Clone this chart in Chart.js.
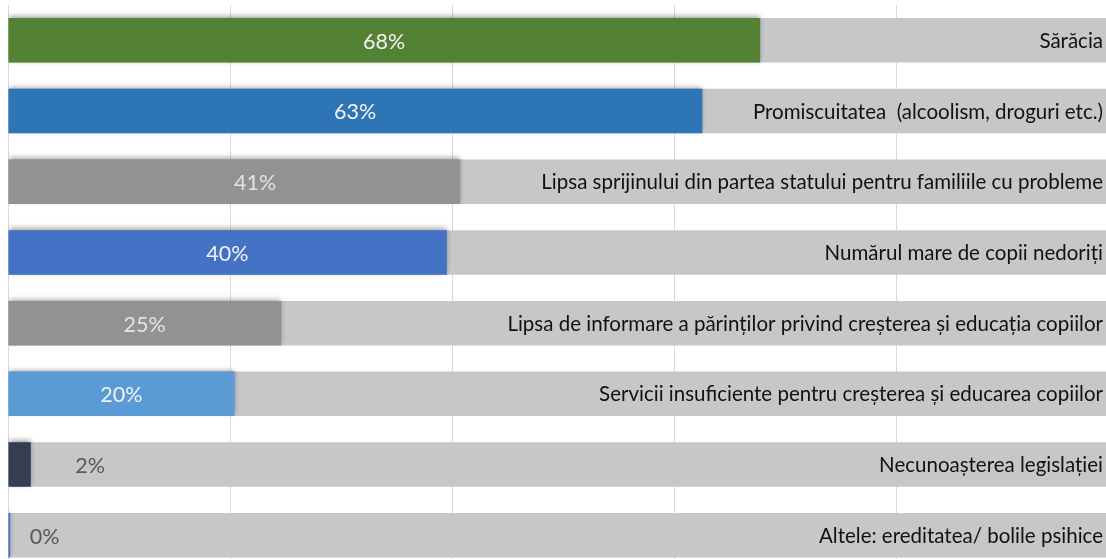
<!DOCTYPE html>
<html>
<head>
<meta charset="utf-8">
<script src="https://cdn.jsdelivr.net/npm/chart.js@4"></script>
<style>
  html, body { margin: 0; padding: 0; background: #ffffff; overflow: hidden; }
  #wrap { position: absolute; left: 0; top: 0; width: 1125px; height: 576px; }
</style>
</head>
<body>
<div id="wrap"><canvas id="c" width="1125" height="576"></canvas></div>
<script>
// ---- data ----
const categories = [
  "Sărăcia",
  "Promiscuitatea  (alcoolism, droguri etc.)",
  "Lipsa sprijinului din partea statului pentru familiile cu probleme",
  "Numărul mare de copii nedoriți",
  "Lipsa de informare a părinților privind creșterea și educația copiilor",
  "Servicii insuficiente pentru creșterea și educarea copiilor",
  "Necunoașterea legislației",
  "Altele: ereditatea/ bolile psihice"
];
const values = [67.7, 62.5, 40.7, 39.5, 24.6, 20.4, 2.05, 0.2];
const valueLabels = ["68%", "63%", "41%", "40%", "25%", "20%", "2%", "0%"];
const totals = [100, 100, 100, 100, 100, 100, 100, 100];
const barColors = ["#548235", "#2E75B6", "#919293", "#4472C4", "#919293", "#5B9BD5", "#333F50", "#4472C4"];
const labelColors = ["#F2F2F2", "#F2F2F2", "#E3E3E3", "#F2F2F2", "#E3E3E3", "#F2F2F2", "#595959", "#595959"];

const FONT = "Lato, 'Open Sans', sans-serif";

const shadowPlugin = {
  id: 'barShadow',
  beforeDatasetDraw(chart, args) {
    if (args.index !== 0) return;
    const ctx = chart.ctx;
    ctx.save();
    ctx.shadowColor = 'rgba(0,0,0,0.35)';
    ctx.shadowBlur = 5;
    ctx.shadowOffsetX = 0;
    ctx.shadowOffsetY = -2;
  },
  afterDatasetDraw(chart, args) {
    if (args.index !== 0) return;
    chart.ctx.restore();
  }
};

const labelPlugin = {
  id: 'textLabels',
  afterDatasetsDraw(chart) {
    const ctx = chart.ctx;
    const meta = chart.getDatasetMeta(0);
    const xs = chart.scales.x;
    const visibleRight = 1103;
    const shifts = { 2: 21 };
    ctx.save();
    ctx.textBaseline = 'middle';
    meta.data.forEach((bar, i) => {
      const y = bar.y;
      // category label, right aligned inside the grey bar
      ctx.font = "20.5px " + FONT;
      ctx.fillStyle = "#111111";
      ctx.textAlign = 'right';
      ctx.fillText(categories[i], visibleRight, y + 1);
      // value label
      ctx.font = "21.5px " + FONT;
      ctx.fillStyle = labelColors[i];
      ctx.textAlign = 'center';
      let x;
      if (values[i] < 5) {
        x = i === 6 ? xs.getPixelForValue(7.4) : xs.getPixelForValue(3.3);
      } else {
        x = (xs.getPixelForValue(0) + bar.x) / 2 + (shifts[i] || 0);
      }
      ctx.fillText(valueLabels[i], x, y + 1.5);
    });
    ctx.restore();
  }
};

new Chart(document.getElementById('c'), {
  type: 'bar',
  data: {
    labels: categories,
    datasets: [
      {
        data: values,
        backgroundColor: barColors,
        borderWidth: 0,
        grouped: false,
        barPercentage: 0.63,
        categoryPercentage: 1
      },
      {
        data: totals,
        backgroundColor: "#C6C7C8",
        borderWidth: 0,
        grouped: false,
        barPercentage: 0.63,
        categoryPercentage: 1
      }
    ]
  },
  options: {
    indexAxis: 'y',
    responsive: false,
    animation: false,
    events: [],
    layout: { padding: { left: 8, top: 5, right: 6, bottom: 5.4 } },
    plugins: { legend: { display: false }, tooltip: { enabled: false } },
    scales: {
      x: {
        min: 0, max: 100,
        ticks: { display: false, stepSize: 20 },
        border: { display: false },
        grid: { color: '#D9D9D9', lineWidth: 1, drawTicks: false },
        afterFit(s) { s.height = 0; }
      },
      y: {
        display: false
      }
    }
  },
  plugins: [shadowPlugin, labelPlugin]
});
</script>
</body>
</html>
